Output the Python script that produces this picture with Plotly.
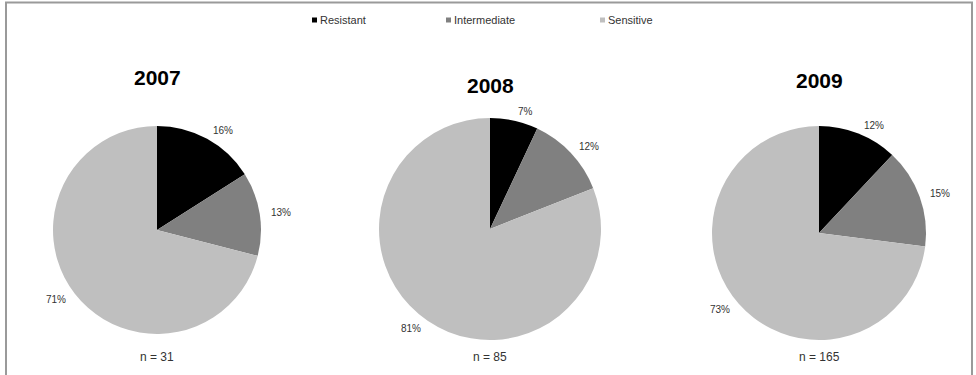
import math
import plotly.graph_objects as go

W, H = 976, 375
years = ["2007", "2008", "2009"]
categories = ["Resistant", "Intermediate", "Sensitive"]
values_2007 = [16, 13, 71]
values_2008 = [7, 12, 81]
values_2009 = [12, 15, 73]
sample_sizes = [31, 85, 165]
colors = ["#000000", "#808080", "#bfbfbf"]

series = [values_2007, values_2008, values_2009]
# pie centres / radii in pixels (layout only)
centres = [(157, 230, 104), (490, 229, 111), (819, 233, 107)]
title_y = [77, 85, 80]
legend_x = [312, 446, 600]
legend_y = 20

fig = go.Figure()
annotations = []
shapes = []
for i, (yr, vals) in enumerate(zip(years, series)):
    cx, cy, r = centres[i]
    dom_x = [(cx - r) / W, (cx + r) / W]
    dom_y = [(H - cy - r) / H, (H - cy + r) / H]
    fig.add_trace(go.Pie(
        labels=categories, values=vals, sort=False, direction="clockwise",
        rotation=0, marker=dict(colors=colors, line=dict(width=0)),
        textinfo="none", hoverinfo="label+percent", domain=dict(x=dom_x, y=dom_y),
        showlegend=False, name=yr,
    ))
    total = sum(vals)
    cum = 0
    for v in vals:
        mid = (cum + v / 2) / total * 2 * math.pi
        cum += v
        d = r + 9
        px = cx + d * math.sin(mid)
        py = cy - d * math.cos(mid)
        annotations.append(dict(
            x=px / W, y=(H - py) / H, xref="paper", yref="paper",
            text=f"{v}%", showarrow=False,
            xanchor="left" if math.sin(mid) > 0 else "right",
            yanchor="middle",
            font=dict(size=10, color="#333333", family="Liberation Sans"),
        ))
    annotations.append(dict(
        x=cx / W, y=(H - title_y[i]) / H, xref="paper", yref="paper",
        text=f"<b>{yr}</b>", showarrow=False, xanchor="center", yanchor="middle",
        font=dict(size=21, color="#000000", family="Liberation Sans"),
    ))
    annotations.append(dict(
        x=cx / W, y=(H - 357) / H, xref="paper", yref="paper",
        text=f"n = {sample_sizes[i]}", showarrow=False, xanchor="center", yanchor="middle",
        font=dict(size=12, color="#333333", family="Liberation Sans"),
    ))

# manual legend
for lx, lab, col in zip(legend_x, categories, colors):
    shapes.append(dict(type="rect", xref="paper", yref="paper",
                       x0=lx / W, x1=(lx + 5) / W,
                       y0=(H - legend_y - 2.5) / H, y1=(H - legend_y + 2.5) / H,
                       line=dict(width=0), fillcolor=col))
    annotations.append(dict(
        x=(lx + 6) / W, y=(H - legend_y) / H, xref="paper", yref="paper",
        text=lab, showarrow=False, xanchor="left", yanchor="middle",
        font=dict(size=11, color="#333333", family="Liberation Sans"),
    ))

shapes.append(dict(type="rect", xref="paper", yref="paper",
                   x0=6 / W, x1=972 / W, y0=-0.02, y1=(H - 2.5) / H,
                   line=dict(color="#9a9a9a", width=2), fillcolor="rgba(0,0,0,0)"))

fig.update_layout(
    width=W, height=H, margin=dict(l=0, r=0, t=0, b=0),
    paper_bgcolor="white", plot_bgcolor="white",
    annotations=annotations, shapes=shapes, showlegend=False,
)
fig.write_html("out.html")
